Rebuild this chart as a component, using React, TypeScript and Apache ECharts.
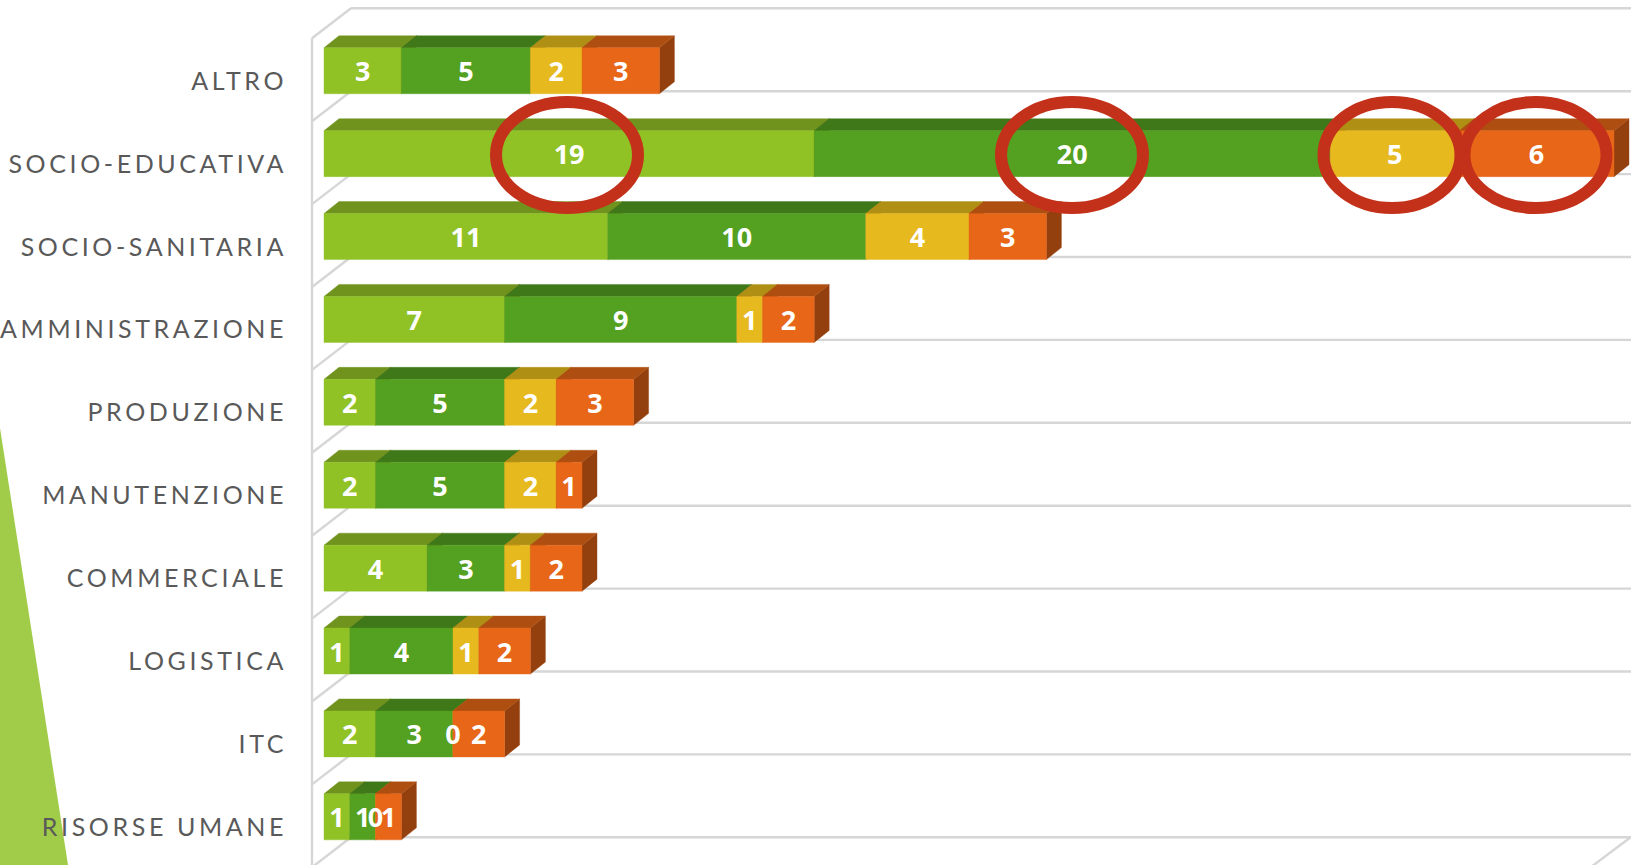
import React, { useEffect, useRef } from "react";
import * as echarts from "echarts";

const categories = ["ALTRO", "SOCIO-EDUCATIVA", "SOCIO-SANITARIA", "AMMINISTRAZIONE", "PRODUZIONE", "MANUTENZIONE", "COMMERCIALE", "LOGISTICA", "ITC", "RISORSE UMANE"];
const seriesA = [3, 19, 11, 7, 2, 2, 4, 1, 2, 1];
const seriesB = [5, 20, 10, 9, 5, 5, 3, 4, 3, 1];
const seriesC = [2, 5, 4, 1, 2, 2, 1, 1, 0, 0];
const seriesD = [3, 6, 3, 2, 3, 1, 2, 2, 2, 1];
const seriesValues = [seriesA, seriesB, seriesC, seriesD];
const frontColors = ["#90C226", "#54A021", "#E6B91E", "#E76618"];
const topColors = ["#70931D", "#3F7818", "#B08F15", "#AE4F11"];
const sideColors = ["#5F7D18", "#356614", "#957912", "#94400E"];
const highlightCenters = [[567, 155], [1072, 155], [1392, 155], [1535.5, 155]];
const highlightRadii = [[71, 53], [71, 53], [68.5, 53], [71, 53]];

const GRID_TOP = 38.3;
const ROW = 82.9;
const WALL = "#D6D6D6";

function buildWalls() {
  const els: any[] = [];
  const line = (x1: number, y1: number, x2: number, y2: number) =>
    els.push({ type: "line", z: 0, shape: { x1, y1, x2, y2 }, style: { stroke: WALL, lineWidth: 2.4 }, silent: true });
  line(312, GRID_TOP, 312, 865);
  for (let i = 0; i <= 10; i++) {
    const y = 8.3 + ROW * i;
    line(312, GRID_TOP + ROW * i, 351, y);
    line(351, y, 1631, y);
  }
  line(1591, 867, 1631, 837);
  return els;
}

export default function App() {
  const ref = useRef<HTMLDivElement>(null);
  useEffect(() => {
    document.body.style.margin = "0";
    const chart = echarts.init(ref.current!, null, { renderer: "svg" });
    const series = seriesValues.map((values, s) => ({
      type: "custom",
      name: "S" + s,
      coordinateSystem: "cartesian2d",
      clip: false,
      encode: { x: [0, 1], y: 2 },
      data: values.map((v, i) => {
        let start = 0;
        for (let k = 0; k < s; k++) start += seriesValues[k][i];
        return [start, start + v, i, v];
      }),
      renderItem: (_: any, api: any) => {
        const idx = api.value(2);
        const a = api.coord([api.value(0), idx]);
        const b = api.coord([api.value(1), idx]);
        const cy = a[1] - 9;
        const top = cy - 23;
        const bottom = cy + 23;
        const dx = 15;
        const dy = 12;
        const poly = (points: number[][], fill: string) => ({
          type: "polygon",
          shape: { points },
          style: { fill, stroke: fill, lineWidth: 0.4 },
        });
        return {
          type: "group",
          children: [
            poly([[b[0], top], [b[0] + dx, top - dy], [b[0] + dx, bottom - dy], [b[0], bottom]], sideColors[3]),
            poly([[a[0], top], [a[0] + dx, top - dy], [b[0] + dx, top - dy], [b[0], top]], topColors[s]),
            poly([[a[0], top], [b[0], top], [b[0], bottom], [a[0], bottom]], frontColors[s]),
            {
              type: "text",
              z2: 20,
              style: {
                x: (a[0] + b[0]) / 2,
                y: cy,
                text: String(api.value(3)),
                fill: "#FFFFFF",
                font: "700 27px 'Open Sans', sans-serif",
                align: "center",
                verticalAlign: "middle",
              },
            },
          ],
        };
      },
    }));
    chart.setOption({
      animation: false,
      backgroundColor: "#FFFFFF",
      grid: { left: 324, width: 1290, top: GRID_TOP, height: ROW * 10, outerBoundsMode: "none" },
      xAxis: { type: "value", min: 0, max: 50, show: false, splitLine: { show: false } },
      yAxis: {
        type: "category",
        inverse: true,
        data: categories,
        axisLine: { show: false },
        axisTick: { show: false },
        axisLabel: {
          margin: 37,
          color: "#595959",
          fontFamily: "Lato, sans-serif",
          fontSize: 25,
          interval: 0,
        },
      },
      graphic: {
        elements: [
          {
            type: "polygon",
            z: 0,
            silent: true,
            shape: { points: [[0, 428], [68, 865], [0, 865]] },
            style: { fill: "#A1CC4A" },
          },
          ...buildWalls(),
          ...highlightCenters.map((c, i) => ({
            type: "ellipse",
            z: 100,
            silent: true,
            shape: { cx: c[0], cy: c[1], rx: highlightRadii[i][0], ry: highlightRadii[i][1] },
            style: { fill: "none", stroke: "#C4311A", lineWidth: 12 },
          })),
        ],
      },
      series,
    });
    const spaceLabels = () => {
      ref.current?.querySelectorAll("text").forEach((t) => {
        if (categories.includes(t.textContent || "")) (t as SVGTextElement).style.letterSpacing = "3.6px";
      });
    };
    spaceLabels();
    chart.on("finished", spaceLabels);
    const raf = requestAnimationFrame(spaceLabels);
    return () => {
      cancelAnimationFrame(raf);
      chart.dispose();
    };
  }, []);
  return <div ref={ref} style={{ width: 1631, height: 865, overflow: "hidden" }} />;
}
